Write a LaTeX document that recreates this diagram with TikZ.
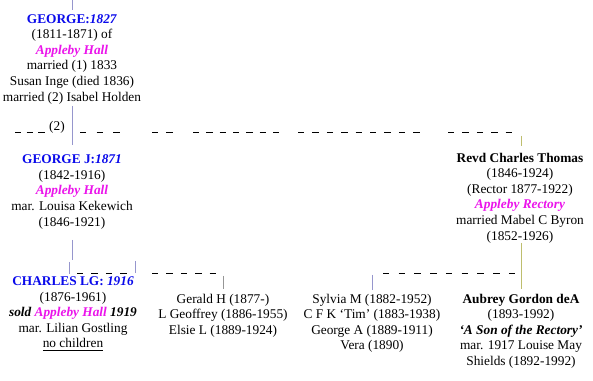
\documentclass[tikz,border=0pt]{standalone}
\usepackage{fontspec}
\setmainfont{Liberation Serif}
\definecolor{nameblue}{RGB}{10,10,235}
\definecolor{hallpink}{RGB}{235,20,235}
\definecolor{lavline}{RGB}{150,150,205}
\definecolor{olvline}{RGB}{190,190,110}
\definecolor{grayline}{RGB}{150,150,150}
\begin{document}
\begin{tikzpicture}[x=0.75pt,y=-0.75pt,
  txt/.style={align=center,inner sep=0pt,anchor=north,font=\fontsize{10}{11.7}\selectfont},
  lav/.style={draw=lavline,line width=0.75pt},
  olv/.style={draw=olvline,line width=0.75pt},
  gry/.style={draw=grayline,line width=0.75pt},
  dsh/.style={draw=black,line width=0.65pt,dash pattern=on 4.8pt off 6pt}]
\useasboundingbox (0,0) rectangle (593,381);
\fill[white] (0,0) rectangle (593,381);

% text blocks
\node[txt] (g1) at (72,14) {\textcolor{nameblue}{\textbf{GEORGE:\textit{1827}}}\\(1811-1871) of\\\textcolor{hallpink}{\textbf{\textit{Appleby Hall}}}\\married (1) 1833\\Susan Inge (died 1836)\\married (2) Isabel Holden};
\node[txt] (g2) at (72,154.5) {\textcolor{nameblue}{\textbf{GEORGE J:\textit{1871}}}\\(1842-1916)\\\textcolor{hallpink}{\textbf{\textit{Appleby Hall}}}\\mar. Louisa Kekewich\\(1846-1921)};
\node[txt] (g3) at (73,276.5) {\textcolor{nameblue}{\textbf{CHARLES LG: \textit{1916}}}\\(1876-1961)\\\textbf{\textit{sold \textcolor{hallpink}{Appleby Hall} 1919}}\\mar. Lilian Gostling\\\underline{no children}};
\node[txt] (k1) at (223,293.5) {Gerald H (1877-)\\L Geoffrey (1886-1955)\\Elsie L (1889-1924)};
\node[txt] (k2) at (372,293.5) {Sylvia M (1882-1952)\\C F K ‘Tim’ (1883-1938)\\George A (1889-1911)\\Vera (1890)};
\node[txt] (au) at (521,293.5) {\textbf{Aubrey Gordon deA}\\(1893-1992)\\\textbf{\textit{‘A Son of the Rectory’}}\\mar. 1917 Louise May\\Shields (1892-1992)};
\node[txt] (rv) at (520,152.5) {\textbf{Revd Charles Thomas}\\(1846-1924)\\(Rector 1877-1922)\\\textcolor{hallpink}{\textbf{\textit{Appleby Rectory}}}\\married Mabel C Byron\\(1852-1926)};
\node[inner sep=0pt,anchor=base,font=\fontsize{10}{11.7}\selectfont] (two) at (57,131) {(2)};

% named line ends
\coordinate (top) at (72,0);
\coordinate (g1t) at (72,10);
\coordinate (g1b) at (72,106);
\coordinate (g2t) at (72,145);
\coordinate (g2b) at (72,240);
\coordinate (g3t) at (72,260);
\coordinate (bl1) at (69,262);
\coordinate (bl2) at (69,274);
\coordinate (br1) at (135,261);
\coordinate (br2) at (135,273);
\coordinate (k1a) at (223,276);
\coordinate (k1b) at (223,289);
\coordinate (k2a) at (372,275);
\coordinate (k2b) at (372,290);
\coordinate (rvt) at (521,136);
\coordinate (rvu) at (521,146);
\coordinate (rvb) at (521,243);
\coordinate (aut) at (521,289);

% vertical connectors
\draw[lav] (top) -- (g1t);
\draw[lav] (g1b) -- (g2t);
\draw[lav] (g2b) -- (g3t);
\draw[lav] (bl1) -- (bl2);
\draw[lav] (br1) -- (br2);
\draw[gry] (k1a) -- (k1b);
\draw[lav] (k2a) -- (k2b);
\draw[olv] (rvt) -- (rvu);
\draw[olv] (rvb) -- (aut);

% dashed rows (top)
\coordinate (d1a) at (15,132);  \coordinate (d1b) at (46,132);
\coordinate (d2a) at (80,132);  \coordinate (d2b) at (125,132);
\coordinate (d3a) at (152,132); \coordinate (d3b) at (178,132);
\coordinate (d4a) at (193,132); \coordinate (d4b) at (280,132);
\coordinate (d5a) at (298,132); \coordinate (d5b) at (420,132);
\coordinate (d6a) at (448,132); \coordinate (d6b) at (518,132);
\draw[dsh,dash pattern=on 4.8pt off 3.9pt] (d1a) -- (d1b);
\draw[dsh,dash pattern=on 4.8pt off 7.7pt] (d2a) -- (d2b);
\draw[dsh] (d3a) -- (d3b);
\draw[dsh,dash pattern=on 4.8pt off 5.2pt] (d4a) -- (d4b);
\draw[dsh] (d5a) -- (d5b);
\draw[dsh] (d6a) -- (d6b);

% dashed rows (bottom)
\coordinate (e1a) at (77,273);  \coordinate (e1b) at (132,273);
\coordinate (e2a) at (152,273); \coordinate (e2b) at (222,273);
\coordinate (e3a) at (383,273); \coordinate (e3b) at (520,273);
\draw[dsh] (e1a) -- (e1b);
\draw[dsh] (e2a) -- (e2b);
\draw[dsh,dash pattern=on 4.8pt off 7pt] (e3a) -- (e3b);
\end{tikzpicture}
\end{document}
